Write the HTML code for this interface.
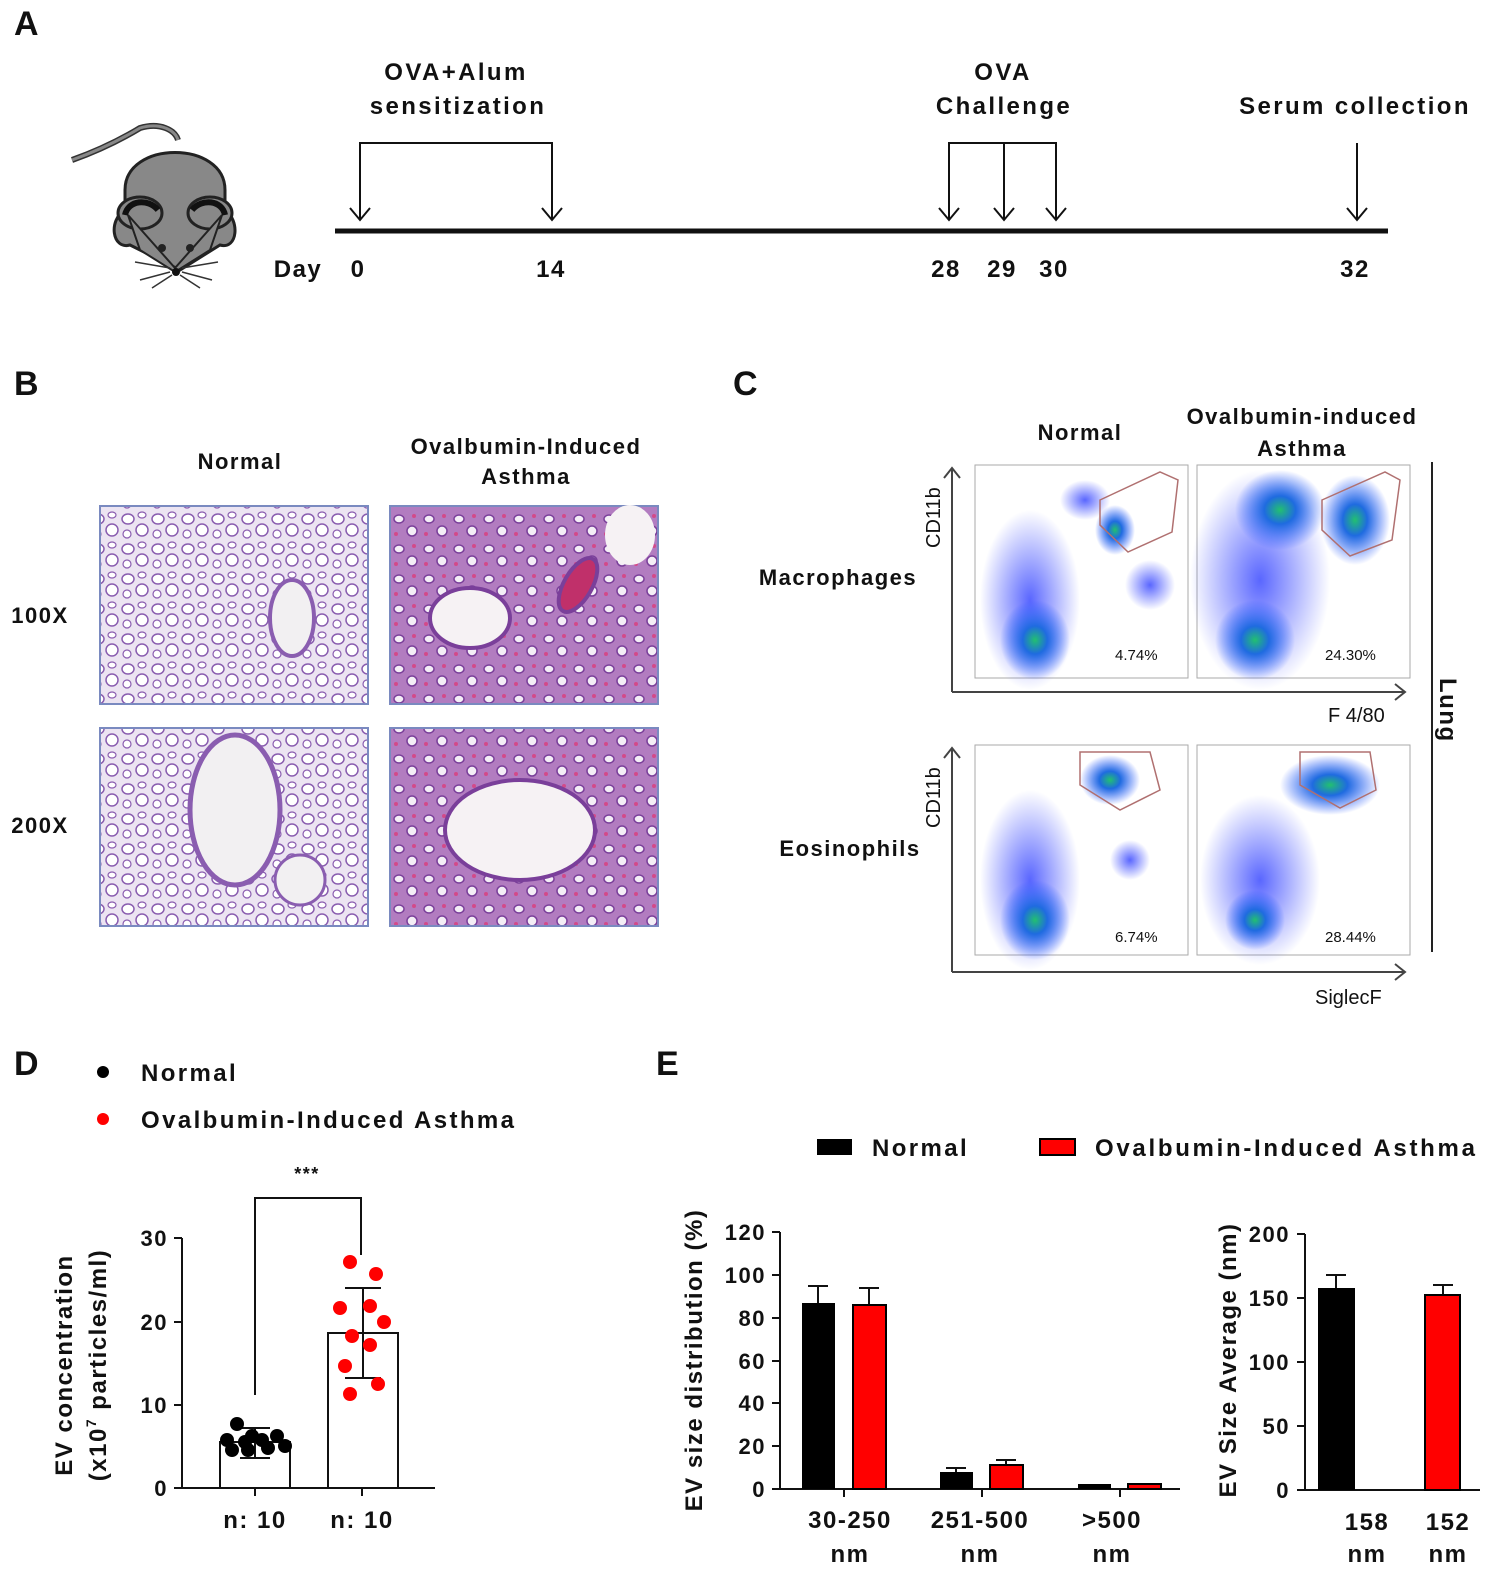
<!DOCTYPE html>
<html><head><meta charset="utf-8"><style>
html,body{margin:0;padding:0;background:#fff}
svg{display:block}
text{font-family:"Liberation Sans",sans-serif;font-weight:bold;fill:#111;letter-spacing:1.5px}
.w{letter-spacing:2.4px}
.n{font-weight:normal;letter-spacing:0}
</style></head><body>
<svg width="1501" height="1574" viewBox="0 0 1501 1574" xmlns="http://www.w3.org/2000/svg">
<defs>
<radialGradient id="blob" cx="50%" cy="50%" r="50%">
<stop offset="0" stop-color="#22c070"/><stop offset="0.35" stop-color="#1f6be0"/><stop offset="1" stop-color="#2050ff" stop-opacity="0"/>
</radialGradient>
<radialGradient id="blob2" cx="50%" cy="50%" r="50%">
<stop offset="0" stop-color="#3040ff" stop-opacity="0.8"/><stop offset="1" stop-color="#3040ff" stop-opacity="0"/>
</radialGradient>
<pattern id="histo" width="30" height="30" patternUnits="userSpaceOnUse">
<rect width="30" height="30" fill="#ece4f2"/>
<ellipse cx="8" cy="9" rx="6" ry="5" fill="#fff" stroke="#8a5db0" stroke-width="1.5"/>
<ellipse cx="22" cy="20" rx="6" ry="6" fill="#fff" stroke="#8a5db0" stroke-width="1.5"/>
<ellipse cx="22" cy="5" rx="4" ry="3" fill="#fff" stroke="#8a5db0" stroke-width="1.2"/>
<ellipse cx="7" cy="24" rx="4" ry="4" fill="#fff" stroke="#8a5db0" stroke-width="1.2"/>
</pattern>
<pattern id="histo2" width="30" height="30" patternUnits="userSpaceOnUse">
<rect width="30" height="30" fill="#b27cc0"/>
<ellipse cx="9" cy="9" rx="5" ry="4" fill="#f4eef6" stroke="#7a3f9a" stroke-width="1.5"/>
<ellipse cx="22" cy="21" rx="5" ry="5" fill="#f4eef6" stroke="#7a3f9a" stroke-width="1.5"/>
<circle cx="24" cy="6" r="2" fill="#d24a8a"/>
<circle cx="6" cy="24" r="2" fill="#d24a8a"/>
</pattern>
</defs>

<!-- Panel A -->
<text x="14" y="35" font-size="34">A</text>
<path d="M72,160 C100,150 120,140 140,128 C160,122 175,130 178,140" fill="none" stroke="#333" stroke-width="6"/>
<path d="M72,160 C100,150 120,140 140,128 C160,122 175,130 178,140" fill="none" stroke="#888" stroke-width="3"/>
<path d="M125,190 C125,140 225,140 225,190 L225,210 C240,220 238,250 220,245 L180,270 L130,245 C112,250 108,220 125,210 Z" fill="#888" stroke="#222" stroke-width="3"/>
<ellipse cx="140" cy="213" rx="22" ry="16" fill="#888" stroke="#222" stroke-width="3"/>
<ellipse cx="210" cy="213" rx="22" ry="16" fill="#888" stroke="#222" stroke-width="3"/>
<path d="M125,215 C128,200 148,198 158,210" fill="none" stroke="#111" stroke-width="6"/>
<path d="M192,210 C202,198 222,200 225,215" fill="none" stroke="#111" stroke-width="6"/>
<path d="M128,215 L175,268 L222,215 L210,250 L175,272 L140,250 Z" fill="#888" stroke="#222" stroke-width="2"/>
<circle cx="162" cy="248" r="4" fill="#222"/><circle cx="190" cy="248" r="4" fill="#222"/>
<circle cx="176" cy="272" r="4" fill="#111"/>
<path d="M170,268 L135,262 M170,272 L140,280 M172,275 L152,288 M182,268 L218,262 M182,272 L212,280 M180,275 L200,288" stroke="#333" stroke-width="1.5"/>
<line x1="335" y1="231" x2="1388" y2="231" stroke="#111" stroke-width="5"/>
<g stroke="#111" stroke-width="2" fill="none">
<path d="M360,220 L360,143 L552,143 L552,220"/>
<path d="M949,220 L949,143 L1056,143 L1056,220 M1004,143 L1004,220"/>
<line x1="1357" y1="143" x2="1357" y2="220"/>
<path d="M350,208 L360,220 L370,208 M542,208 L552,220 L562,208 M939,208 L949,220 L959,208 M994,208 L1004,220 L1014,208 M1046,208 L1056,220 L1066,208 M1347,208 L1357,220 L1367,208"/>
</g>
<g font-size="24" text-anchor="middle" class="w">
<text class="w" x="456" y="80">OVA+Alum</text><text class="w" x="458" y="114">sensitization</text>
<text class="w" x="1003" y="80">OVA</text><text class="w" x="1004" y="114">Challenge</text>
<text class="w" x="1355" y="114">Serum collection</text>
<text x="298" y="277">Day</text><text x="358" y="277">0</text><text x="551" y="277">14</text>
<text x="946" y="277">28</text><text x="1002" y="277">29</text><text x="1054" y="277">30</text><text x="1355" y="277">32</text>
</g>

<!-- Panel B -->
<text x="14" y="395" font-size="34">B</text>
<g font-size="22" text-anchor="middle">
<text x="240" y="469">Normal</text>
<text x="526" y="454">Ovalbumin-Induced</text><text x="526" y="484">Asthma</text>
<text x="40" y="623">100X</text><text x="40" y="833">200X</text>
</g>
<rect x="100" y="506" width="268" height="198" fill="url(#histo)" stroke="#7a8ac0" stroke-width="2"/>
<ellipse cx="292" cy="618" rx="22" ry="38" fill="#f2f0f2" stroke="#8a5db0" stroke-width="4"/>
<rect x="390" y="506" width="268" height="198" fill="url(#histo2)" stroke="#7a8ac0" stroke-width="2"/>
<ellipse cx="470" cy="618" rx="40" ry="30" fill="#f6f2f4" stroke="#7a3f9a" stroke-width="4"/>
<ellipse cx="578" cy="585" rx="14" ry="30" fill="#c0306a" stroke="#7a3f9a" stroke-width="4" transform="rotate(30 578 585)"/>
<ellipse cx="630" cy="535" rx="25" ry="30" fill="#f6f2f4"/>
<rect x="100" y="728" width="268" height="198" fill="url(#histo)" stroke="#7a8ac0" stroke-width="2"/>
<ellipse cx="235" cy="810" rx="45" ry="75" fill="#f2f0f2" stroke="#8a5db0" stroke-width="5"/>
<ellipse cx="300" cy="880" rx="25" ry="25" fill="#f2f0f2" stroke="#8a5db0" stroke-width="3"/>
<rect x="390" y="728" width="268" height="198" fill="url(#histo2)" stroke="#7a8ac0" stroke-width="2"/>
<ellipse cx="520" cy="830" rx="75" ry="50" fill="#f6f2f4" stroke="#7a3f9a" stroke-width="4"/>

<!-- Panel C -->
<text x="733" y="395" font-size="34">C</text>
<g font-size="22" text-anchor="middle">
<text x="1080" y="440">Normal</text>
<text x="1302" y="424">Ovalbumin-induced</text><text x="1302" y="456">Asthma</text>
<text x="838" y="585">Macrophages</text>
<text x="850" y="856">Eosinophils</text>
</g>
<g font-size="20">
<text class="n" x="1328" y="722">F 4/80</text>
<text class="n" x="1315" y="1004">SiglecF</text>
<text class="n" transform="translate(940,548) rotate(-90)">CD11b</text>
<text class="n" transform="translate(940,828) rotate(-90)">CD11b</text>
</g>
<text transform="translate(1440,678) rotate(90)" font-size="24">Lung</text>
<line x1="1432" y1="462" x2="1432" y2="952" stroke="#222" stroke-width="2"/>
<g stroke="#444" stroke-width="2" fill="none">
<path d="M952,692 L952,468 M944,478 L952,468 L960,478 M952,692 L1405,692 M1395,684 L1405,692 L1395,700"/>
<path d="M952,972 L952,748 M944,758 L952,748 L960,758 M952,972 L1405,972 M1395,964 L1405,972 L1395,980"/>
</g>
<g stroke="#aaa" stroke-width="1" fill="#fff">
<rect x="975" y="465" width="213" height="213"/><rect x="1197" y="465" width="213" height="213"/>
<rect x="975" y="745" width="213" height="210"/><rect x="1197" y="745" width="213" height="210"/>
</g>
<g>
<ellipse cx="1030" cy="600" rx="50" ry="90" fill="url(#blob2)"/>
<ellipse cx="1035" cy="640" rx="35" ry="40" fill="url(#blob)"/>
<ellipse cx="1085" cy="500" rx="25" ry="20" fill="url(#blob2)"/>
<ellipse cx="1115" cy="530" rx="20" ry="25" fill="url(#blob)"/>
<ellipse cx="1150" cy="585" rx="25" ry="25" fill="url(#blob2)"/>
<ellipse cx="1260" cy="580" rx="70" ry="110" fill="url(#blob2)"/>
<ellipse cx="1255" cy="640" rx="40" ry="40" fill="url(#blob)"/>
<ellipse cx="1280" cy="510" rx="45" ry="40" fill="url(#blob)"/>
<ellipse cx="1355" cy="520" rx="35" ry="45" fill="url(#blob)"/>
<ellipse cx="1030" cy="880" rx="50" ry="90" fill="url(#blob2)"/>
<ellipse cx="1035" cy="920" rx="35" ry="40" fill="url(#blob)"/>
<ellipse cx="1110" cy="780" rx="30" ry="25" fill="url(#blob)"/>
<ellipse cx="1130" cy="860" rx="20" ry="20" fill="url(#blob2)"/>
<ellipse cx="1260" cy="880" rx="60" ry="85" fill="url(#blob2)"/>
<ellipse cx="1255" cy="920" rx="30" ry="30" fill="url(#blob)"/>
<ellipse cx="1330" cy="785" rx="50" ry="30" fill="url(#blob)"/>
</g>
<g fill="none" stroke="#b07070" stroke-width="1.5">
<path d="M1100,500 L1160,472 L1178,480 L1172,532 L1128,552 L1100,525 Z"/>
<path d="M1322,500 L1385,472 L1400,480 L1392,540 L1350,556 L1322,530 Z"/>
<path d="M1080,752 L1150,752 L1160,790 L1120,810 L1080,785 Z"/>
<path d="M1300,752 L1370,752 L1376,790 L1340,808 L1300,785 Z"/>
</g>
<g font-size="15">
<text class="n" x="1115" y="660">4.74%</text>
<text class="n" x="1325" y="660">24.30%</text>
<text class="n" x="1115" y="942">6.74%</text>
<text class="n" x="1325" y="942">28.44%</text>
</g>

<!-- Panel D -->
<text x="14" y="1075" font-size="34">D</text>
<circle cx="103" cy="1072" r="6" fill="#000"/><circle cx="103" cy="1119" r="6" fill="#f00"/>
<g font-size="24"><text class="w" x="141" y="1081">Normal</text><text class="w" x="141" y="1128">Ovalbumin-Induced Asthma</text></g>
<g stroke="#111" stroke-width="2" fill="none">
<path d="M182,1238 L182,1488 L435,1488"/>
<path d="M174,1238 L182,1238 M174,1322 L182,1322 M174,1405 L182,1405 M174,1488 L182,1488"/>
<path d="M255,1488 L255,1496 M362,1488 L362,1496"/>
<rect x="220" y="1442" width="70" height="46"/>
<rect x="328" y="1333" width="70" height="155"/>
<path d="M255,1395 L255,1198 L361,1198 L361,1255"/>
<path d="M363,1288 L363,1378 M345,1288 L381,1288 M345,1378 L381,1378"/>
<path d="M255,1428 L255,1458 M240,1428 L270,1428 M240,1458 L270,1458"/>
</g>
<g fill="#000">
<circle cx="237" cy="1424" r="7"/><circle cx="227" cy="1440" r="7"/><circle cx="245" cy="1442" r="7"/><circle cx="262" cy="1440" r="7"/>
<circle cx="277" cy="1436" r="7"/><circle cx="285" cy="1446" r="7"/><circle cx="232" cy="1450" r="7"/><circle cx="252" cy="1436" r="7"/>
<circle cx="268" cy="1448" r="7"/><circle cx="248" cy="1450" r="7"/>
</g>
<g fill="#f00">
<circle cx="350" cy="1262" r="7"/><circle cx="376" cy="1274" r="7"/><circle cx="340" cy="1308" r="7"/><circle cx="370" cy="1306" r="7"/>
<circle cx="384" cy="1322" r="7"/><circle cx="352" cy="1336" r="7"/><circle cx="370" cy="1345" r="7"/><circle cx="345" cy="1366" r="7"/>
<circle cx="378" cy="1384" r="7"/><circle cx="350" cy="1394" r="7"/>
</g>
<text x="307" y="1180" font-size="18" text-anchor="middle">***</text>
<g font-size="22" text-anchor="end"><text x="168" y="1246">30</text><text x="168" y="1330">20</text><text x="168" y="1413">10</text><text x="168" y="1496">0</text></g>
<g font-size="24" text-anchor="middle"><text x="255" y="1528">n: 10</text><text x="362" y="1528">n: 10</text></g>
<text transform="translate(72,1365) rotate(-90)" font-size="24" text-anchor="middle">EV concentration</text>
<text transform="translate(106,1365) rotate(-90)" font-size="24" text-anchor="middle">(x10<tspan font-size="14" dy="-10">7</tspan><tspan dy="10"> particles/ml)</tspan></text>

<!-- Panel E -->
<text x="656" y="1075" font-size="34">E</text>
<rect x="817" y="1139" width="35" height="16" fill="#000"/>
<rect x="1040" y="1139" width="35" height="16" fill="#f00" stroke="#000" stroke-width="2"/>
<g font-size="24"><text class="w" x="872" y="1156">Normal</text><text x="1095" y="1156" style="letter-spacing:2.7px">Ovalbumin-Induced Asthma</text></g>
<g stroke="#111" stroke-width="2" fill="none">
<path d="M780,1232 L780,1489 L1180,1489"/>
<path d="M772,1232 L780,1232 M772,1275 L780,1275 M772,1318 L780,1318 M772,1361 L780,1361 M772,1403 L780,1403 M772,1446 L780,1446 M772,1489 L780,1489"/>
<path d="M844,1489 L844,1497 M982,1489 L982,1497 M1120,1489 L1120,1497"/>
<path d="M818,1303 L818,1286 M808,1286 L828,1286 M869,1305 L869,1288 M859,1288 L879,1288"/>
<path d="M956,1472 L956,1468 M946,1468 L966,1468 M1006,1465 L1006,1460 M996,1460 L1016,1460"/>
<path d="M1305,1234 L1305,1490 L1480,1490"/>
<path d="M1297,1234 L1305,1234 M1297,1298 L1305,1298 M1297,1362 L1305,1362 M1297,1426 L1305,1426 M1297,1490 L1305,1490"/>
<path d="M1336,1288 L1336,1275 M1326,1275 L1346,1275 M1443,1295 L1443,1285 M1433,1285 L1453,1285"/>
</g>
<g fill="#000">
<rect x="802" y="1303" width="33" height="186"/><rect x="940" y="1472" width="33" height="17"/><rect x="1078" y="1484" width="33" height="5"/>
<rect x="1318" y="1288" width="37" height="202"/>
</g>
<g fill="#f00" stroke="#000" stroke-width="2">
<rect x="853" y="1305" width="33" height="184"/><rect x="990" y="1465" width="33" height="24"/><rect x="1128" y="1484" width="33" height="5"/>
<rect x="1425" y="1295" width="35" height="195"/>
</g>
<g font-size="22" text-anchor="end">
<text x="766" y="1240">120</text><text x="766" y="1283">100</text><text x="766" y="1326">80</text><text x="766" y="1369">60</text><text x="766" y="1411">40</text><text x="766" y="1454">20</text><text x="766" y="1497">0</text>
<text x="1290" y="1242">200</text><text x="1290" y="1306">150</text><text x="1290" y="1370">100</text><text x="1290" y="1434">50</text><text x="1290" y="1498">0</text>
</g>
<g font-size="24" text-anchor="middle">
<text x="850" y="1528">30-250</text><text x="850" y="1562">nm</text>
<text x="980" y="1528">251-500</text><text x="980" y="1562">nm</text>
<text x="1112" y="1528">&gt;500</text><text x="1112" y="1562">nm</text>
<text x="1367" y="1530">158</text><text x="1367" y="1562">nm</text>
<text x="1448" y="1530">152</text><text x="1448" y="1562">nm</text>
</g>
<text transform="translate(702,1360) rotate(-90)" font-size="24" text-anchor="middle">EV size distribution (%)</text>
<text transform="translate(1236,1360) rotate(-90)" font-size="24" text-anchor="middle">EV Size Average (nm)</text>
</svg>
</body></html>
